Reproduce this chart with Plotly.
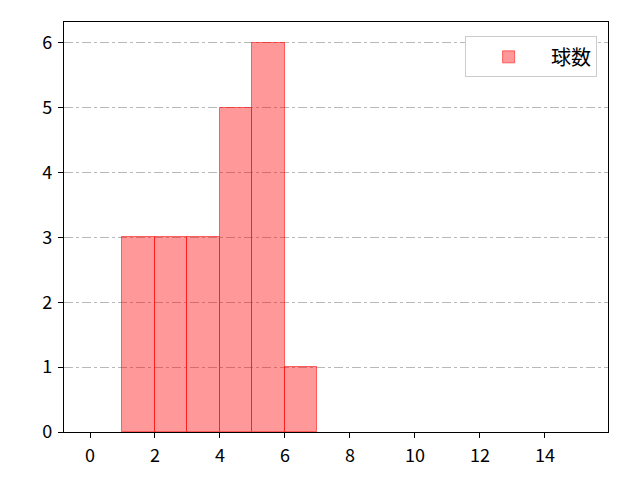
import plotly.graph_objects as go

bin_left = [1, 2, 3, 4, 5, 6]
counts = [3, 3, 3, 5, 6, 1]
x_ticks = [0, 2, 4, 6, 8, 10, 12, 14]
y_ticks = [0, 1, 2, 3, 4, 5, 6]
series_name = "球数"

fig = go.Figure()
fig.add_trace(go.Bar(
    x=[b + 0.5 for b in bin_left],
    y=counts,
    width=1,
    name=series_name,
    showlegend=True,
    marker=dict(color="rgba(255,0,0,0.4)", line=dict(color="rgba(255,0,0,0.55)", width=1)),
))

font_family = "Noto Sans CJK JP, DejaVu Sans, sans-serif"
fig.update_layout(
    width=640, height=480,
    margin=dict(l=56, r=40, t=14, b=56),
    plot_bgcolor="white", paper_bgcolor="white",
    font=dict(family=font_family, size=14, color="black"),
    bargap=0,
    xaxis=dict(
        range=[-0.8, 15.94], tickvals=x_ticks, showgrid=False, zeroline=False,
        showline=True, linecolor="black", linewidth=1.2, mirror=True,
        ticks="outside", ticklen=5, tickcolor="black", tickfont=dict(size=18),
        ticklabelstandoff=2,
    ),
    yaxis=dict(
        range=[0, 6.32], tickvals=y_ticks, showgrid=True, gridcolor="#b8b8b8",
        griddash="dashdot", gridwidth=0.8, zeroline=False,
        showline=True, linecolor="black", linewidth=1.2, mirror=True,
        ticks="outside", ticklen=5, tickcolor="black", tickfont=dict(size=18),
        ticklabelstandoff=2,
    ),
    legend=dict(
        x=0.98, y=0.965, xanchor="right", yanchor="top",
        bgcolor="white", bordercolor="#cccccc", borderwidth=1,
        font=dict(size=20), itemwidth=75,
    ),
)
fig.write_html("out.html")
